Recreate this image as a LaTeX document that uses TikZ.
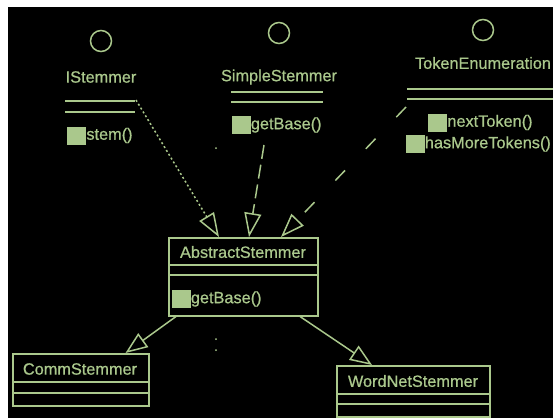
\documentclass[tikz,border=0pt]{standalone}
\usepackage{fontspec}
\setmainfont{Liberation Sans}
\newfontfamily\diagfont{Liberation Sans}[FakeBold=0.7]
\usetikzlibrary{arrows.meta,calc}
\definecolor{ink}{RGB}{170,200,140}
\begin{document}
\begin{tikzpicture}[x=1pt,y=-1pt,
  every node/.style={inner sep=0pt},
  lbl/.style={text=ink,font=\diagfont\fontsize{16.3}{19}\selectfont},
  icon/.style={fill=ink,minimum width=19pt,minimum height=18pt},
  lolli/.style={circle,draw=ink,line width=1.5pt,minimum size=21pt},
  classbox/.style={draw=ink,line width=1.5pt,anchor=north west},
  sep/.style={draw=ink,line width=1.5pt},
  realize/.style={draw=ink,line width=1.5pt,
    -{Triangle[open,length=24pt,width=17pt]}},
  inherit/.style={draw=ink,line width=1.5pt,
    -{Triangle[open,length=22pt,width=17pt]}},
  speck/.style={fill=ink}
]
% canvas
\useasboundingbox (0,0) rectangle (553,418);
\fill[white] (0,0) rectangle (553,418);
\fill[black] (8,7) rectangle (553,418);

% ---- interface IStemmer
\node[lolli] (istemC) at (101,41) {};
\node[lbl] (istemN) at (101,77) {IStemmer};
\draw[sep] (65,101) -- (135,101);
\draw[sep] (65,112) -- (135,112);
\node[icon] (istemI) at (76.5,135.5) {};
\node[lbl,anchor=west] (istemOp) at (istemI.east) {stem()};

% ---- SimpleStemmer
\node[lolli] (simpC) at (279,33) {};
\node[lbl] (simpN) at (279,77) {SimpleStemmer};
\draw[sep] (231,92) -- (323,92);
\draw[sep] (231,102) -- (323,102);
\node[icon] (simpI) at (241,125) {};
\node[lbl,anchor=west] (simpOp) at (simpI.east) {getBase()};

% ---- TokenEnumeration
\node[lolli] (tokC) at (483,30) {};
\node[lbl] (tokN) at (483,63) {TokenEnumeration};
\draw[sep] (407,89) -- (553,89);
\draw[sep] (407,99) -- (553,99);
\node[icon] (tokI1) at (437.5,122.5) {};
\node[lbl,anchor=west] (tokOp1) at (tokI1.east) {nextToken()};
\node[icon] (tokI2) at (415,144) {};
\node[lbl,anchor=west] (tokOp2) at (tokI2.east) {hasMoreTokens()};

% ---- AbstractStemmer
\node[classbox,minimum width=149pt,minimum height=78pt] (abs) at (168,237) {};
\node[lbl] (absN) at (243,252) {AbstractStemmer};
\draw[sep] (abs.west |- 0,265) -- (abs.east |- 0,265);
\draw[sep] (abs.west |- 0,275) -- (abs.east |- 0,275);
\node[icon] (absI) at (181,299) {};
\node[lbl,anchor=west] (absOp) at (absI.east) {getBase()};

% ---- CommStemmer
\node[classbox,minimum width=136pt,minimum height=52pt] (comm) at (12,353) {};
\node[lbl] (commN) at (80,369) {CommStemmer};
\draw[sep] (comm.west |- 0,382) -- (comm.east |- 0,382);
\draw[sep] (comm.west |- 0,393) -- (comm.east |- 0,393);

% ---- WordNetStemmer
\node[classbox,minimum width=153pt,minimum height=51pt] (wn) at (336,365) {};
\node[lbl] (wnN) at (413,381) {WordNetStemmer};
\draw[sep] (wn.west |- 0,394) -- (wn.east |- 0,394);
\draw[sep] (wn.west |- 0,404) -- (wn.east |- 0,404);

% ---- realizations (dashed, hollow heads)
\coordinate (istemFrom) at (136,100);
\coordinate (simpFrom) at (264,145);
\coordinate (tokFrom) at (406,107);
\coordinate (absIn1) at ($(abs.north west)+(51,0)$);
\coordinate (absIn2) at ($(abs.north west)+(81,0)$);
\coordinate (absIn3) at ($(abs.north west)+(113,0)$);
\draw[realize,dash pattern=on 2pt off 2.5pt] (istemFrom) -- (absIn1);
\draw[realize,dash pattern=on 14pt off 6pt] (simpFrom) -- (absIn2);
\draw[realize,dash pattern=on 14pt off 30pt] (tokFrom) -- (absIn3);

% ---- generalizations (solid, hollow heads)
\coordinate (absOut1) at ($(abs.south west)+(8,0)$);
\coordinate (absOut2) at ($(abs.south west)+(132,0)$);
\coordinate (commIn) at ($(comm.north east)+(-24,0)$);
\coordinate (wnIn) at ($(wn.north west)+(36,0)$);
\draw[inherit] (absOut1) -- (commIn);
\draw[inherit] (absOut2) -- (wnIn);

% ---- stray marks
\fill[speck] (216,148) circle (1pt);
\fill[speck] (216,339) circle (1pt);
\fill[speck] (216,350) circle (1pt);
\end{tikzpicture}
\end{document}
